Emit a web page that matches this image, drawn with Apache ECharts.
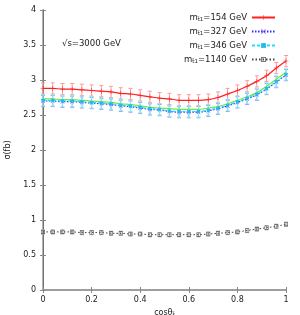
<!DOCTYPE html>
<html><head><meta charset="utf-8">
<script src="https://cdn.jsdelivr.net/npm/echarts@6/dist/echarts.min.js"></script>
<style>html,body{margin:0;padding:0;background:#fff}#c{width:300px;height:315px}</style>
</head><body><div id="c"></div>
<script>
var cosValues = [0,0.04,0.08,0.12,0.16,0.20,0.24,0.28,0.32,0.36,0.40,0.44,0.48,0.52,0.56,0.60,0.64,0.68,0.72,0.76,0.80,0.84,0.88,0.92,0.96,1.00];
var sigma154 = [2.88,2.88,2.87,2.87,2.86,2.85,2.84,2.83,2.81,2.80,2.78,2.76,2.74,2.73,2.71,2.71,2.71,2.72,2.75,2.80,2.85,2.91,2.98,3.06,3.17,3.27];
var sigma327 = [2.70,2.70,2.69,2.69,2.68,2.67,2.66,2.65,2.63,2.62,2.60,2.58,2.57,2.55,2.54,2.54,2.54,2.56,2.59,2.63,2.68,2.73,2.79,2.87,2.97,3.07];
var sigma346 = [2.71,2.71,2.70,2.70,2.69,2.68,2.67,2.66,2.64,2.63,2.61,2.59,2.58,2.56,2.55,2.55,2.55,2.57,2.60,2.64,2.69,2.74,2.80,2.88,2.98,3.08];
var sigma327fit = [2.73,2.73,2.72,2.72,2.71,2.70,2.69,2.68,2.66,2.65,2.63,2.61,2.60,2.59,2.58,2.58,2.58,2.60,2.62,2.66,2.71,2.76,2.82,2.91,3.01,3.11];
var sigma1140 = [0.83,0.83,0.83,0.83,0.82,0.82,0.82,0.81,0.81,0.80,0.80,0.79,0.79,0.79,0.79,0.79,0.79,0.80,0.81,0.82,0.83,0.85,0.87,0.89,0.91,0.94];
var err154 = 0.08, err327 = 0.08, err346 = 0.08, err1140 = 0.03;
var xTicks = [0,0.2,0.4,0.6,0.8,1];
var legendNames = ['154','327','346','1140'];

function pairs(ys){ return cosValues.map(function(x,i){return [x, ys[i]];}); }
function bars(ys, e){ return cosValues.map(function(x,i){return [x, ys[i]-e, ys[i]+e];}); }
function errSeries(ys, e, color){
  return {
    type:'custom', silent:true, z:1,
    data: bars(ys,e),
    renderItem: function(params, api){
      var x = api.value(0);
      var lo = api.coord([x, api.value(1)]);
      var hi = api.coord([x, api.value(2)]);
      var w = 2;
      return {type:'group', children:[
        {type:'line', shape:{x1:lo[0],y1:lo[1],x2:hi[0],y2:hi[1]}, style:{stroke:color,lineWidth:1}},
        {type:'line', shape:{x1:lo[0]-w,y1:lo[1],x2:lo[0]+w,y2:lo[1]}, style:{stroke:color,lineWidth:1}},
        {type:'line', shape:{x1:hi[0]-w,y1:hi[1],x2:hi[0]+w,y2:hi[1]}, style:{stroke:color,lineWidth:1}}
      ]};
    }
  };
}
var plusPath = 'path://M0,4.5H10V5.5H0Z M4.5,0H5.5V10H4.5Z';
var crossPath = 'path://M0,1L1,0L10,9L9,10Z M9,0L10,1L1,10L0,9Z';
var openSquarePath = 'path://M0,0H10V10H0Z M1.5,1.5V8.5H8.5V1.5Z';

var chart = echarts.init(document.getElementById('c'));
var font = 'DejaVu Sans, sans-serif';
chart.setOption({
  animation:false,
  textStyle:{fontFamily:font},
  grid:{left:43, right:14, top:10, bottom:25, containLabel:false, outerBoundsMode:'none'},
  legend:{
    data:legendNames, orient:'vertical', right:24, top:12, align:'right', padding:0,
    itemWidth:23, itemHeight:6, itemGap:3,
    textStyle:{fontSize:8.5, color:'#222', fontFamily:font,
      rich:{m:{fontSize:8.5,color:'#222',lineHeight:11}, s:{fontSize:5.5,color:'#222',lineHeight:11,padding:[5,0,0,0]}}},
    formatter:function(n){ return '{m|m}{s|t\u03031}{m|=' + n + ' GeV}'; }
  },
  graphic:[{type:'text', left:62, top:39, style:{text:'\u221As=3000 GeV', fontSize:8.5, fill:'#222', fontFamily:font}}],
  xAxis:[{
    type:'value', min:0, max:1, interval:0.2,
    name:'{a|cos\u03b8}{b|t\u0303}', nameLocation:'middle', nameGap:15,
    nameTextStyle:{rich:{a:{fontSize:8,color:'#222'}, b:{fontSize:6,color:'#222',padding:[5,0,0,0]}}},
    axisLine:{lineStyle:{color:'#999',width:1.5}},
    axisTick:{inside:true,length:3,lineStyle:{color:'#888'}},
    axisLabel:{fontSize:8,color:'#222',margin:6, formatter:function(v){return String(v);}},
    splitLine:{show:false}
  },{
    type:'value', position:'top', min:0, max:1, interval:0.2,
    axisLine:{lineStyle:{color:'#999',width:1.5}},
    axisTick:{inside:true,length:3,lineStyle:{color:'#888'}},
    axisLabel:{show:false}, splitLine:{show:false}
  }],
  yAxis:[{
    type:'value', min:0, max:4, interval:0.5,
    name:'\u03c3(fb)', nameLocation:'middle', nameGap:31, nameRotate:90,
    nameTextStyle:{fontSize:8,color:'#222'},
    axisLine:{show:true,lineStyle:{color:'#000',width:1}},
    axisTick:{show:true,inside:true,length:3,lineStyle:{color:'#888'}},
    axisLabel:{fontSize:8,color:'#222',margin:7},
    splitLine:{show:false}
  },{
    type:'value', position:'right', min:0, max:4, interval:0.5,
    axisLine:{show:true,lineStyle:{color:'#999',width:1.5}},
    axisTick:{show:true,inside:true,length:3,lineStyle:{color:'#888'}},
    axisLabel:{show:false}, splitLine:{show:false}
  }],
  series:[
    errSeries(sigma154, err154, '#ff9999'),
    errSeries(sigma327, err327, '#b08ee8'),
    errSeries(sigma346, err346, '#7fefff'),
    errSeries(sigma1140, err1140, '#aaaaaa'),
    {name:'154', type:'line', data:pairs(sigma154), smooth:0.3, z:3,
     symbol:plusPath, symbolSize:5, showSymbol:true,
     lineStyle:{color:'#ff2020',width:1.2}, itemStyle:{color:'#ff2020'}},
    {name:'fit', type:'line', data:pairs(sigma327fit), smooth:0.3, z:2,
     symbol:'none', lineStyle:{color:'#66ee44',width:1.2}},
    {name:'327', type:'line', data:pairs(sigma327), smooth:0.3, z:3,
     symbol:crossPath, symbolSize:4,
     lineStyle:{color:'#3030ff',width:1.2,type:[1.5,1.5]}, itemStyle:{color:'#8a5ad8'}},
    {name:'346', type:'line', data:pairs(sigma346), smooth:0.3, z:3,
     symbol:'rect', symbolSize:3,
     lineStyle:{color:'#22ddff',width:1.2,type:[3,2]}, itemStyle:{color:'#22bbee'}},
    {name:'1140', type:'line', data:pairs(sigma1140), smooth:0.3, z:3,
     symbol:openSquarePath, symbolSize:4,
     lineStyle:{color:'#444',width:1,type:[1.5,2]}, itemStyle:{color:'#555'}}
  ]
});
</script></body></html>
